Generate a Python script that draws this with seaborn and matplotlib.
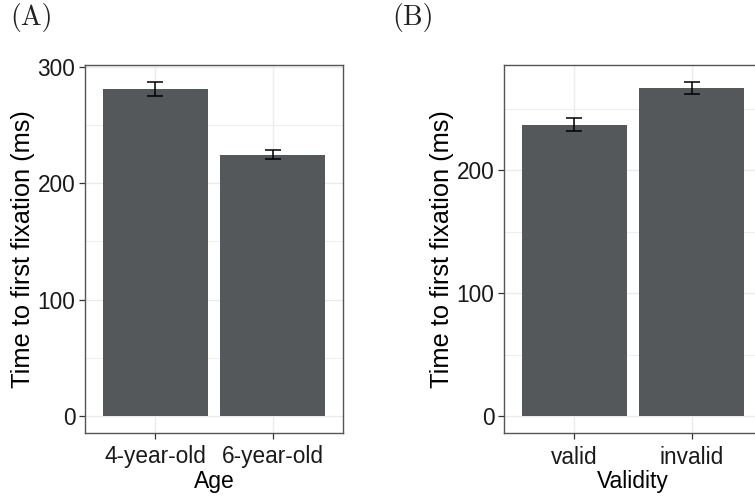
import matplotlib
matplotlib.use("Agg")
import matplotlib.pyplot as plt
import seaborn as sns
import pandas as pd
import numpy as np
from matplotlib.ticker import MultipleLocator

# Data
age_groups = ["4-year-old", "6-year-old"]
age_means = [281.0, 224.5]
age_se = [6.0, 4.0]

validity_groups = ["valid", "invalid"]
validity_means = [237.0, 267.0]
validity_se = [5.2, 5.0]

y_label = "Time to first fixation (ms)"
bar_color = "#54585b"

sns.set_theme(style="white")
plt.rcParams["font.family"] = ["Liberation Sans", "DejaVu Sans"]

fig = plt.figure(figsize=(7.55, 4.96), dpi=100)
W, H = 755, 496

def make_ax(left_px, top_px, right_px, bottom_px):
    return fig.add_axes([left_px / W, 1 - bottom_px / H,
                         (right_px - left_px) / W, (bottom_px - top_px) / H])

axA = make_ax(85, 65, 343, 433)
axB = make_ax(504, 65, 762, 433)

def panel(ax, cats, means, se, xlabel, major):
    df = pd.DataFrame({"cat": cats, "val": means})
    sns.barplot(data=df, x="cat", y="val", color=bar_color, width=0.9,
                saturation=1, errorbar=None, ax=ax, zorder=2)
    for p in ax.patches:
        p.set_edgecolor("none")
    ax.errorbar(x=np.arange(len(cats)), y=means, yerr=se, fmt="none",
                ecolor="black", elinewidth=1.1, capsize=6, capthick=1.1, zorder=3)
    ymax = max(m + s for m, s in zip(means, se))
    ax.set_ylim(-0.05 * ymax, 1.05 * ymax)
    ax.set_xlim(-0.6, len(cats) - 0.4)
    ax.yaxis.set_major_locator(MultipleLocator(major))
    ax.yaxis.set_minor_locator(MultipleLocator(major / 2))
    ax.set_facecolor("white")
    ax.grid(True, which="major", color="#ebebeb", linewidth=1.0, zorder=0)
    ax.grid(True, which="minor", axis="y", color="#ebebeb", linewidth=0.6, zorder=0)
    ax.set_axisbelow(True)
    for s in ax.spines.values():
        s.set_visible(True)
        s.set_color("#555555")
        s.set_linewidth(1.0)
    ax.tick_params(axis="both", which="major", length=4, width=0.9, color="#333333",
                   labelsize=16.3, labelcolor="#1a1a1a", pad=3, left=True, bottom=True)
    ax.tick_params(axis="x", which="major", pad=5)
    ax.tick_params(axis="y", which="minor", length=0)
    ax.set_xlabel(xlabel, fontsize=16.5, color="black", labelpad=1)
    ax.set_ylabel(y_label, fontsize=18.3, color="black", labelpad=1.5)

panel(axA, age_groups, age_means, age_se, "Age", 100)
panel(axB, validity_groups, validity_means, validity_se, "Validity", 100)

for xpx, lab in [(10, "(A)"), (392, "(B)")]:
    fig.text(xpx / W, 1 - 18 / H, lab, fontsize=20,
             family=["cmr10", "Liberation Serif", "DejaVu Serif"],
             va="center", ha="left", color="#222222")

fig.savefig("out.png", dpi=100)
